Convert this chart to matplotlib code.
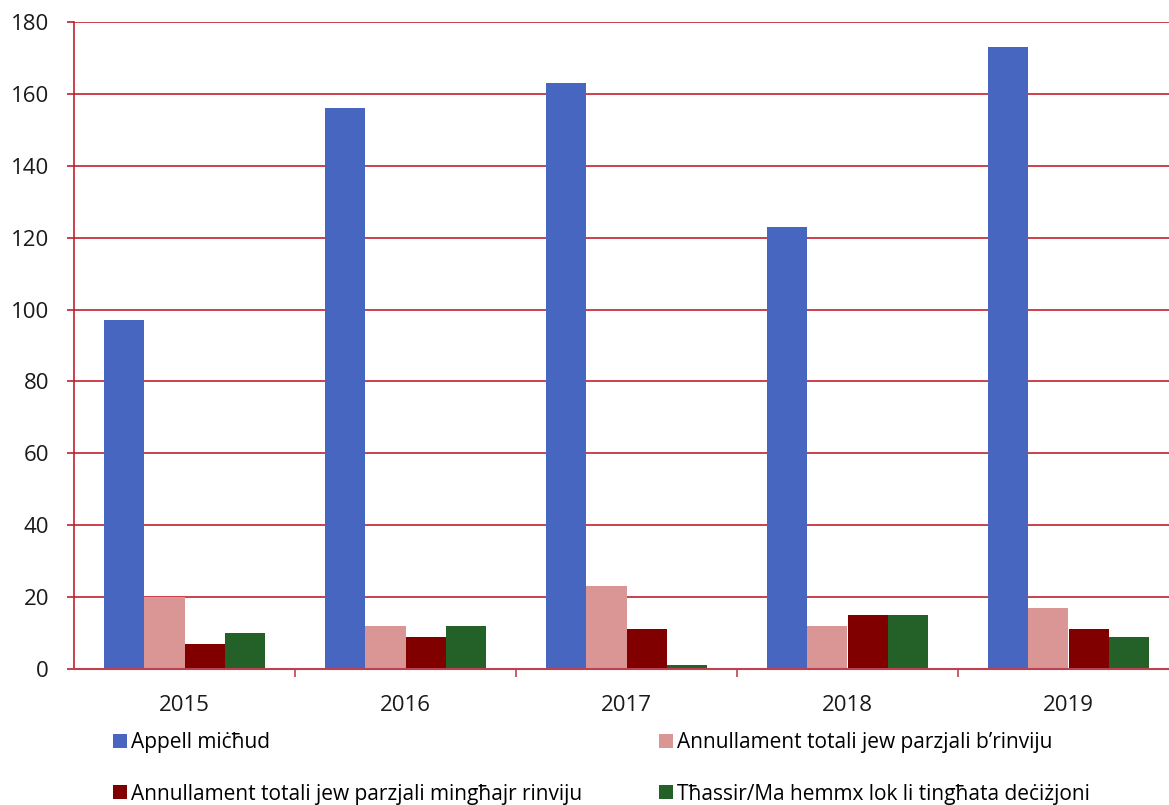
import numpy as np
import matplotlib
matplotlib.use("Agg")
import matplotlib.pyplot as plt
from matplotlib.patches import Patch

plt.rcParams['font.family'] = ['Open Sans', 'DejaVu Sans']

years = ['2015', '2016', '2017', '2018', '2019']
appell_michud = [97, 156, 163, 123, 173]
annull_rinviju = [20, 12, 23, 12, 17]
annull_minghajr = [7, 9, 11, 15, 11]
thassir = [10, 12, 1, 15, 9]

labels = ['Appell miċħud',
          'Annullament totali jew parzjali b’rinviju',
          'Annullament totali jew parzjali mingħajr rinviju',
          'Tħassir/Ma hemmx lok li tingħata deċiżjoni']
colours = ['#4666C0', '#D99694', '#800000', '#246129']
series = [appell_michud, annull_rinviju, annull_minghajr, thassir]

grid_col = '#C0202E'

fig = plt.figure(figsize=(11.69, 8.05), dpi=100)
W, H = 1169, 805
ax = fig.add_axes([74 / W, 1 - 669 / H, (1179 - 74) / W, (669 - 22) / H])

x = np.arange(len(years))
bw = 0.182
for i, (vals, c) in enumerate(zip(series, colours)):
    ax.bar(x + (i - 1.5) * bw, vals, width=bw, color=c, label=labels[i], zorder=3)

ax.set_xlim(-0.5, len(years) - 0.5)
ax.set_ylim(0, 180)
ax.set_yticks(np.arange(0, 181, 20))
for yv in np.arange(20, 181, 20):
    ax.axhline(yv, color=grid_col, lw=1.2, zorder=1)

for s in ['top', 'right']:
    ax.spines[s].set_visible(False)
ax.spines['left'].set_color(grid_col)
ax.spines['left'].set_linewidth(1.2)
ax.spines['bottom'].set_color('#C04050')
ax.spines['bottom'].set_linewidth(1.5)
ax.spines['bottom'].set_zorder(4)

ax.tick_params(axis='y', colors=grid_col, length=5, width=1.2, labelsize=16,
               labelcolor='#1a1a1a', pad=13)
ax.set_xticks(x)
ax.set_xticklabels(years)
ax.set_xticks(np.arange(0.5, len(years) - 0.5, 1), minor=True)
ax.tick_params(axis='x', which='major', length=0, labelsize=16, labelcolor='#1a1a1a', pad=19)
ax.tick_params(axis='x', which='minor', length=6, width=1.2, color='#C04050')

# legend: two columns, column-major order
order = [0, 2, 1, 3]
handles = [Patch(facecolor=colours[i], label=labels[i]) for i in order]
fig.legend(handles=handles, ncol=2, frameon=False, fontsize=15,
           loc='upper left', bbox_to_anchor=(113 / W, 1 - 732 / H),
           handlelength=0.65, handleheight=0.65, handletextpad=0.22,
           columnspacing=3.7, labelspacing=1.47, borderaxespad=0, borderpad=0)

fig.savefig('out.png', dpi=100)
